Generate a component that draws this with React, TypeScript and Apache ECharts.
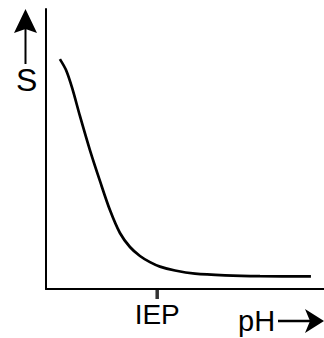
import React, { useEffect, useRef } from "react";
import * as echarts from "echarts";

// Solubility S versus pH (arbitrary units, 0–100 on both axes)
const phValues = [5.0, 7.2, 9.4, 12.2, 15.8, 19.4, 23.0, 26.6, 30.2, 33.8, 37.4, 41.0, 46.4, 53.6, 64.4, 77.0, 95.3];
const solubility = [82.1, 78.2, 71.8, 61.8, 49.6, 38.6, 28.2, 20.0, 15.0, 11.8, 9.6, 8.0, 6.6, 5.5, 4.9, 4.6, 4.5];
const iepPh = 40;
const iepLabel = "IEP";
const xTitle = "pH";
const yTitle = "S";

const FONT = "'Liberation Sans', Arial, sans-serif";

export default function App() {
  const ref = useRef<HTMLDivElement>(null);
  useEffect(() => {
    if (!ref.current) return;
    const chart = echarts.init(ref.current, null, { renderer: "svg" });
    const data = phValues.map((x, i) => [x, solubility[i]]);
    chart.setOption({
      animation: false,
      backgroundColor: "#ffffff",
      grid: { left: 46, right: 0, top: 9, bottom: 49 },
      xAxis: {
        type: "value",
        min: 0,
        max: 100,
        splitLine: { show: false },
        axisLine: { show: true, onZero: false, lineStyle: { color: "#000", width: 2 } },
        axisTick: { show: false },
        axisLabel: {
          show: true,
          customValues: [iepPh],
          formatter: () => iepLabel,
          color: "#000",
          fontFamily: FONT,
          fontSize: 28,
          margin: 11,
        },
      },
      yAxis: {
        type: "value",
        min: 0,
        max: 100,
        splitLine: { show: false },
        axisLine: { show: true, onZero: false, lineStyle: { color: "#000", width: 2 } },
        axisTick: { show: false },
        axisLabel: { show: false },
      },
      series: [
        {
          type: "line",
          data,
          smooth: 0.3,
          showSymbol: false,
          lineStyle: { color: "#000", width: 2.7 },
        },
        {
          type: "scatter",
          data: [[iepPh, 0]],
          symbol: "rect",
          symbolSize: [3.5, 10],
          symbolOffset: [0, 5],
          itemStyle: { color: "#000" },
          clip: false,
          silent: true,
          z: 5,
        },
      ],
      graphic: [
        {
          type: "text",
          left: 238,
          top: 306,
          style: { text: xTitle, font: `29px ${FONT}`, fill: "#000" },
        },
        {
          type: "line",
          shape: { x1: 278, y1: 321, x2: 312, y2: 321 },
          style: { stroke: "#000", lineWidth: 2.5 },
        },
        {
          type: "polygon",
          shape: { points: [[324, 321], [305, 309], [310, 321], [305, 333]] },
          style: { fill: "#000" },
        },
        {
          type: "text",
          left: 16,
          top: 64,
          style: { text: yTitle, font: `32px ${FONT}`, fill: "#000" },
        },
        {
          type: "line",
          shape: { x1: 25.5, y1: 64, x2: 25.5, y2: 28 },
          style: { stroke: "#000", lineWidth: 2 },
        },
        {
          type: "polygon",
          shape: { points: [[25.5, 9], [37, 33], [25.5, 29], [14, 33]] },
          style: { fill: "#000" },
        },
      ],
    });
    return () => chart.dispose();
  }, []);
  return (
    <div
      ref={ref}
      style={{ position: "fixed", left: 0, top: 0, width: 324, height: 338 }}
    />
  );
}
